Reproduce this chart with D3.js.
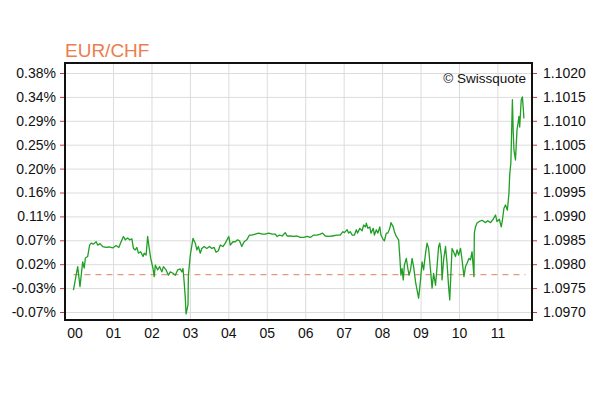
<!DOCTYPE html>
<html>
<head>
<meta charset="utf-8">
<script src="https://cdn.jsdelivr.net/npm/d3@7"></script>
<style>
  body { margin: 0; background: #fff; }
  svg { display: block; font-family: "Liberation Sans", Arial, sans-serif; }
  .grid line { stroke: #dcdcdc; stroke-width: 1; }
  .grid path { display: none; }
  .axis path { display: none; }
  .axis text { font-size: 14px; fill: #111; }
  .axis.side line { stroke: #c43c3c; stroke-width: 1; }
</style>
</head>
<body>
<div id="chart"></div>
<script>
// EUR/CHF intraday, hour of day -> rate
const hours = [-0.03, 0.04, 0.08, 0.12, 0.14, 0.21, 0.25, 0.28, 0.34, 0.39, 0.43, 0.49, 0.56, 0.60, 0.66, 0.73, 0.82, 0.90, 0.99,
  1.08, 1.15, 1.21, 1.27, 1.32, 1.38, 1.43, 1.49, 1.53, 1.58, 1.62, 1.66, 1.72, 1.78, 1.81, 1.86, 1.90, 1.93, 1.98,
  2.04, 2.07, 2.10, 2.16, 2.21, 2.27, 2.31, 2.38, 2.44, 2.49, 2.56, 2.62, 2.68, 2.75, 2.79, 2.82, 2.85, 2.88, 2.90, 2.95, 2.96,
  3.01, 3.08, 3.14, 3.18, 3.22, 3.27, 3.31, 3.37, 3.44, 3.51, 3.57, 3.63, 3.68, 3.74, 3.79, 3.86, 3.92,
  4.01, 4.05, 4.12, 4.18, 4.24, 4.29, 4.35, 4.41, 4.48, 4.55, 4.61, 4.70, 4.79, 4.88, 4.96,
  5.05, 5.14, 5.22, 5.27, 5.33, 5.40, 5.48, 5.53, 5.61, 5.70, 5.79, 5.87, 5.96,
  6.05, 6.13, 6.22, 6.31, 6.39, 6.45, 6.52, 6.61, 6.70, 6.83, 6.91, 6.98,
  7.02, 7.09, 7.13, 7.17, 7.22, 7.28, 7.33, 7.36, 7.42, 7.48, 7.52, 7.57, 7.59, 7.63, 7.68, 7.71, 7.77, 7.80, 7.85, 7.89, 7.94, 7.97,
  8.03, 8.06, 8.11, 8.15, 8.20, 8.23, 8.29, 8.32, 8.37, 8.43, 8.46, 8.49, 8.52, 8.55, 8.58, 8.63, 8.67, 8.70, 8.74, 8.78, 8.82, 8.87, 8.91, 8.95,
  9.00, 9.04, 9.08, 9.13, 9.17, 9.21, 9.26, 9.30, 9.34, 9.39, 9.43, 9.47, 9.50, 9.54, 9.56, 9.60, 9.65, 9.69, 9.73, 9.76, 9.80, 9.82, 9.86, 9.91, 9.95, 9.99,
  10.04, 10.08, 10.13, 10.17, 10.21, 10.26, 10.30, 10.34, 10.39, 10.40, 10.43, 10.47, 10.52, 10.60, 10.69, 10.75, 10.82, 10.89, 10.95, 10.99,
  11.05, 11.10, 11.13, 11.17, 11.21, 11.26, 11.30, 11.32, 11.35, 11.39, 11.41, 11.43, 11.47, 11.51, 11.54, 11.56, 11.58, 11.62, 11.65, 11.67, 11.69];

const rates = [1.09746, 1.09777, 1.09795, 1.09767, 1.09753, 1.09805, 1.09792, 1.09813, 1.09816, 1.09840, 1.09844, 1.09842, 1.09847, 1.09840, 1.09843, 1.09837, 1.09835, 1.09836, 1.09834,
  1.09839, 1.09835, 1.09847, 1.09858, 1.09851, 1.09855, 1.09851, 1.09853, 1.09833, 1.09830, 1.09835, 1.09823, 1.09826, 1.09816, 1.09823, 1.09819, 1.09858, 1.09840, 1.09812,
  1.09791, 1.09774, 1.09798, 1.09788, 1.09795, 1.09784, 1.09795, 1.09788, 1.09777, 1.09784, 1.09781, 1.09777, 1.09788, 1.09790, 1.09784, 1.09791, 1.09763, 1.09729, 1.09696, 1.09715, 1.09777,
  1.09819, 1.09854, 1.09844, 1.09830, 1.09837, 1.09823, 1.09833, 1.09837, 1.09833, 1.09837, 1.09833, 1.09835, 1.09825, 1.09828, 1.09840, 1.09837, 1.09844,
  1.09858, 1.09840, 1.09847, 1.09847, 1.09851, 1.09849, 1.09837, 1.09847, 1.09851, 1.09861, 1.09861, 1.09863, 1.09865, 1.09863, 1.09863,
  1.09865, 1.09863, 1.09863, 1.09858, 1.09861, 1.09859, 1.09866, 1.09859, 1.09859, 1.09858, 1.09859, 1.09856, 1.09856,
  1.09858, 1.09856, 1.09861, 1.09861, 1.09863, 1.09865, 1.09859, 1.09858, 1.09859, 1.09861, 1.09861, 1.09868,
  1.09866, 1.09872, 1.09865, 1.09868, 1.09861, 1.09861, 1.09872, 1.09865, 1.09875, 1.09870, 1.09882, 1.09878, 1.09886, 1.09875, 1.09878, 1.09865, 1.09875, 1.09861, 1.09872, 1.09865, 1.09878, 1.09861,
  1.09851, 1.09849, 1.09865, 1.09865, 1.09875, 1.09887, 1.09878, 1.09868, 1.09858, 1.09851, 1.09816, 1.09777, 1.09791, 1.09767, 1.09798, 1.09812, 1.09791, 1.09777, 1.09788, 1.09812, 1.09795, 1.09763, 1.09746, 1.09729,
  1.09767, 1.09805, 1.09788, 1.09823, 1.09844, 1.09833, 1.09788, 1.09750, 1.09781, 1.09756, 1.09795, 1.09837, 1.09844, 1.09819, 1.09767, 1.09809, 1.09837, 1.09802, 1.09753, 1.09725, 1.09798, 1.09833, 1.09826, 1.09816, 1.09830, 1.09819,
  1.09833, 1.09809, 1.09774, 1.09795, 1.09802, 1.09812, 1.09809, 1.09826, 1.09774, 1.09865, 1.09878, 1.09886, 1.09889, 1.09892, 1.09887, 1.09891, 1.09887, 1.09894, 1.09903, 1.09889,
  1.09894, 1.09878, 1.09892, 1.09917, 1.09924, 1.09913, 1.09948, 1.09987, 1.10012, 1.10144, 1.10081, 1.10039, 1.10018, 1.10081, 1.10097, 1.10109, 1.10087, 1.10144, 1.10150, 1.10129, 1.10105];

// reference level (dashed line) and axis ticks
const baseRate = 1.09778;
const rateTicks = [1.0970, 1.0975, 1.0980, 1.0985, 1.0990, 1.0995, 1.1000, 1.1005, 1.1010, 1.1015, 1.1020];
const pctLabels = ["-0.07%", "-0.03%", "0.02%", "0.07%", "0.11%", "0.16%", "0.20%", "0.25%", "0.29%", "0.34%", "0.38%"];
const hourTicks = [0, 1, 2, 3, 4, 5, 6, 7, 8, 9, 10, 11];
const hourLabels = ["00", "01", "02", "03", "04", "05", "06", "07", "08", "09", "10", "11"];

const W = 606, H = 402;
const plotL = 65, plotR = 532, plotT = 63, plotB = 320;

const svg = d3.select("#chart").append("svg").attr("width", W).attr("height", H);

// Scales
const x = d3.scaleLinear().domain([-0.25, 11.9]).range([plotL, plotR]);
const y = d3.scaleLinear().domain([1.0970, 1.1020]).range([312, 73]);

// Gridlines
svg.append("g")
  .attr("class", "grid")
  .attr("transform", "translate(" + plotL + ",0)")
  .call(d3.axisLeft(y).tickValues(rateTicks).tickSize(-(plotR - plotL)).tickFormat(""));

svg.append("g")
  .attr("class", "grid")
  .attr("transform", "translate(0," + plotB + ")")
  .call(d3.axisBottom(x).tickValues(hourTicks.slice(1)).tickSize(-(plotB - plotT)).tickFormat(""));

// Baseline
svg.append("line")
  .attr("x1", x(hours[0])).attr("x2", x(11.73))
  .attr("y1", y(baseRate)).attr("y2", y(baseRate))
  .attr("stroke", "#e39a7c").attr("stroke-width", 1.2)
  .attr("stroke-dasharray", "6,5");

// Price line
const pts = hours.map((h, i) => [h, rates[i]]);
const line = d3.line().x(d => x(d[0])).y(d => y(d[1]));
svg.append("path")
  .datum(pts)
  .attr("d", line)
  .attr("fill", "none")
  .attr("stroke", "#1f9f24")
  .attr("stroke-width", 1.3)
  .attr("stroke-linejoin", "round");

// Frame
svg.append("rect")
  .attr("x", plotL).attr("y", plotT)
  .attr("width", plotR - plotL).attr("height", plotB - plotT)
  .attr("fill", "none").attr("stroke", "#111").attr("stroke-width", 2);

// Axes
svg.append("g")
  .attr("class", "axis side")
  .attr("transform", "translate(" + (plotL - 1) + ",0)")
  .call(d3.axisLeft(y).tickValues(rateTicks).tickSize(4).tickPadding(4)
    .tickFormat((d, i) => pctLabels[i]));

svg.append("g")
  .attr("class", "axis side")
  .attr("transform", "translate(" + (plotR + 1) + ",0)")
  .call(d3.axisRight(y).tickValues(rateTicks).tickSize(4).tickPadding(6)
    .tickFormat(d3.format(".4f")));

svg.append("g")
  .attr("class", "axis")
  .attr("transform", "translate(0," + plotB + ")")
  .call(d3.axisBottom(x).tickValues(hourTicks).tickSize(0).tickPadding(8)
    .tickFormat((d, i) => hourLabels[i]));

// Title and credit
svg.append("text")
  .attr("x", plotL).attr("y", 57)
  .attr("font-size", 19)
  .attr("fill", "#ec7d4e")
  .text("EUR/CHF");

svg.append("text")
  .attr("x", 526).attr("y", 83)
  .attr("text-anchor", "end")
  .attr("font-size", 13.5)
  .attr("fill", "#111")
  .text("© Swissquote");
</script>
</body>
</html>
